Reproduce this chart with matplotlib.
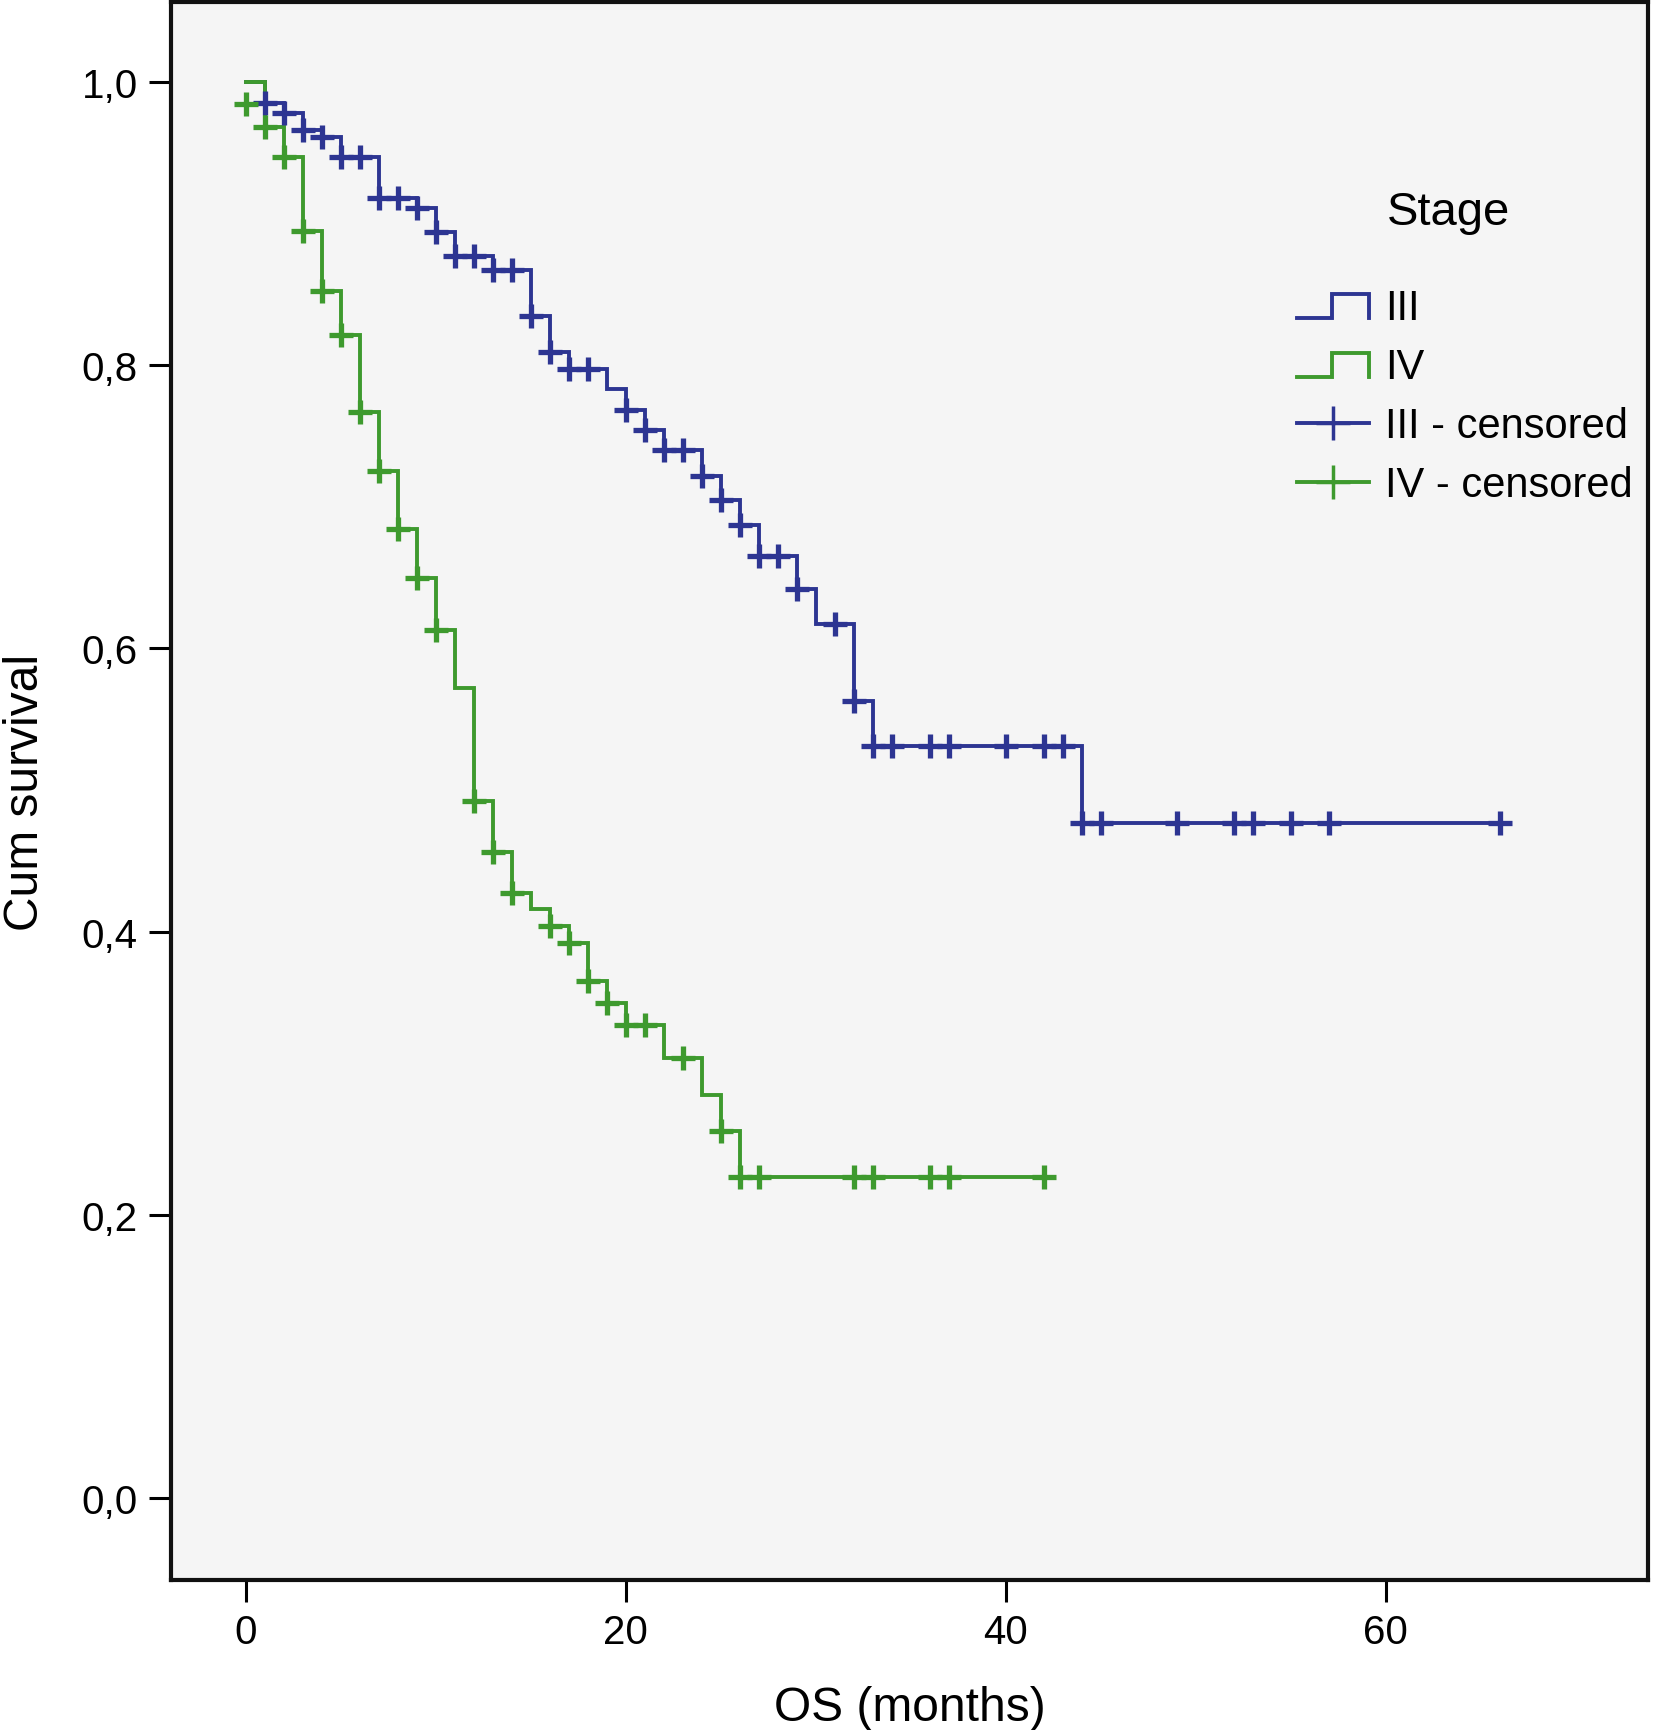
import numpy as np
import matplotlib
matplotlib.use('Agg')
import matplotlib.pyplot as plt
from matplotlib.lines import Line2D
from matplotlib.legend_handler import HandlerBase

plt.rcParams['font.family'] = ['Liberation Sans', 'DejaVu Sans']

# Stage III: event times (months) and survival after each drop
iii_event_t = [1, 2, 3, 4, 5, 7, 9, 10, 11, 13, 15, 16, 17, 19, 20, 21, 22, 24,
               25, 26, 27, 29, 30, 32, 33, 44]
iii_surv = [0.985, 0.978, 0.966, 0.961, 0.947, 0.918, 0.911, 0.894, 0.877, 0.867,
            0.835, 0.809, 0.797, 0.783, 0.768, 0.754, 0.740, 0.722, 0.705, 0.687,
            0.665, 0.642, 0.617, 0.563, 0.531, 0.477]
iii_last = 66
iii_cens_t = [1, 2, 3, 4, 5, 6, 7, 8, 9, 10, 11, 12, 13, 14, 15, 16, 17, 18, 20, 21,
              22, 23, 24, 25, 26, 27, 28, 29, 31, 32, 33, 34, 36, 37, 40, 42, 43,
              44, 45, 49, 52, 53, 55, 57, 66]
iii_cens_s = [0.985, 0.978, 0.966, 0.961, 0.947, 0.947, 0.918, 0.918, 0.911, 0.894,
              0.877, 0.877, 0.867, 0.867, 0.835, 0.809, 0.797, 0.797, 0.768, 0.754,
              0.740, 0.740, 0.722, 0.705, 0.687, 0.665, 0.665, 0.642, 0.617, 0.563,
              0.531, 0.531, 0.531, 0.531, 0.531, 0.531, 0.531,
              0.477, 0.477, 0.477, 0.477, 0.477, 0.477, 0.477, 0.477]

# Stage IV
iv_event_t = [1, 2, 3, 4, 5, 6, 7, 8, 9, 10, 11, 12, 13, 14, 15, 16, 17, 18, 19, 20,
              22, 24, 25, 26]
iv_surv = [0.968, 0.947, 0.895, 0.852, 0.821, 0.767, 0.725, 0.684, 0.650, 0.613,
           0.572, 0.492, 0.456, 0.427, 0.416, 0.404, 0.392, 0.365, 0.350, 0.334,
           0.311, 0.285, 0.259, 0.227]
iv_last = 42
iv_cens_t = [0, 1, 2, 3, 4, 5, 6, 7, 8, 9, 10, 12, 13, 14, 16, 17, 18, 19, 20, 21,
             23, 25, 26, 27, 32, 33, 36, 37, 42]
iv_cens_s = [0.984, 0.968, 0.947, 0.895, 0.852, 0.821, 0.767, 0.725, 0.684, 0.650,
             0.613, 0.492, 0.456, 0.427, 0.404, 0.392, 0.365, 0.350, 0.334, 0.334,
             0.311, 0.259, 0.227, 0.227, 0.227, 0.227, 0.227, 0.227, 0.227]

yticks = [0.0, 0.2, 0.4, 0.6, 0.8, 1.0]
xticks = [0, 20, 40, 60]

blue = '#2d3592'
green = '#3e9a2e'


def km_path(event_t, surv, last):
    x = [0] + list(event_t) + [last]
    y = [1.0] + list(surv) + [surv[-1]]
    return x, y


class StepHandler(HandlerBase):
    # legend key drawn as a small step, like SPSS
    def create_artists(self, legend, orig_handle, xdescent, ydescent,
                       width, height, fontsize, trans):
        x0 = -xdescent
        x1 = x0 + width
        xm = x0 + 0.48 * width
        ylo = -ydescent + 0.05 * height
        yhi = -ydescent + 0.85 * height
        ln = Line2D([x0, xm, xm, x1, x1], [ylo, ylo, yhi, yhi, ylo],
                    color=orig_handle.get_color(),
                    lw=orig_handle.get_linewidth(),
                    solid_joinstyle='miter')
        ln.set_transform(trans)
        return [ln]


fig = plt.figure(figsize=(16.55, 17.31), dpi=100)
ax = fig.add_axes([0.1033, 0.0867, 0.8925, 0.9113])
ax.set_facecolor('#f5f5f5')

for ev, sv, last, col in [(iii_event_t, iii_surv, iii_last, blue),
                          (iv_event_t, iv_surv, iv_last, green)]:
    x, y = km_path(ev, sv, last)
    ax.step(x, y, where='post', color=col, lw=2.8, solid_joinstyle='miter')

ax.plot(iii_cens_t, iii_cens_s, ls='none', marker='+', ms=17, mew=3.8, color=blue)
ax.plot(iv_cens_t, iv_cens_s, ls='none', marker='+', ms=17, mew=3.8, color=green)

ax.set_xlim(-3.94, 73.8)
ax.set_ylim(-0.0576, 1.056)
ax.set_xticks(xticks)
ax.set_yticks(yticks)
ax.set_yticklabels([f'{v:.1f}'.replace('.', ',') for v in yticks])
ax.tick_params(direction='out', length=16, width=2.2, labelsize=29, pad=8)

for sp in ax.spines.values():
    sp.set_linewidth(3)
    sp.set_color('#111111')

ax.set_ylabel('Cum survival', fontsize=34.5)
ax.yaxis.set_label_coords(-0.083, 0.5)
ax.set_xlabel('OS (months)', fontsize=34.5, va='baseline')
ax.xaxis.set_label_coords(0.5, -0.0887)

# legend
h3 = Line2D([], [], color=blue, lw=2.8)
h4 = Line2D([], [], color=green, lw=2.8)
h3c = Line2D([], [], color=blue, lw=2.8, marker='+', ms=24, mew=2.5)
h4c = Line2D([], [], color=green, lw=2.8, marker='+', ms=24, mew=2.5)
ax.legend([h3, h4, h3c, h4c], ['III', 'IV', 'III - censored', 'IV - censored'],
          loc='upper left', bbox_to_anchor=(0.7624, 0.819), frameon=False,
          fontsize=30, handlelength=1.73, handletextpad=0.38, labelspacing=0.46,
          borderpad=0, borderaxespad=0,
          handler_map={h3: StepHandler(), h4: StepHandler()})
ax.text(0.8233, 0.8672, 'Stage', transform=ax.transAxes, fontsize=34,
        ha='left', va='center')

fig.savefig('out.png', dpi=100, facecolor='white')
